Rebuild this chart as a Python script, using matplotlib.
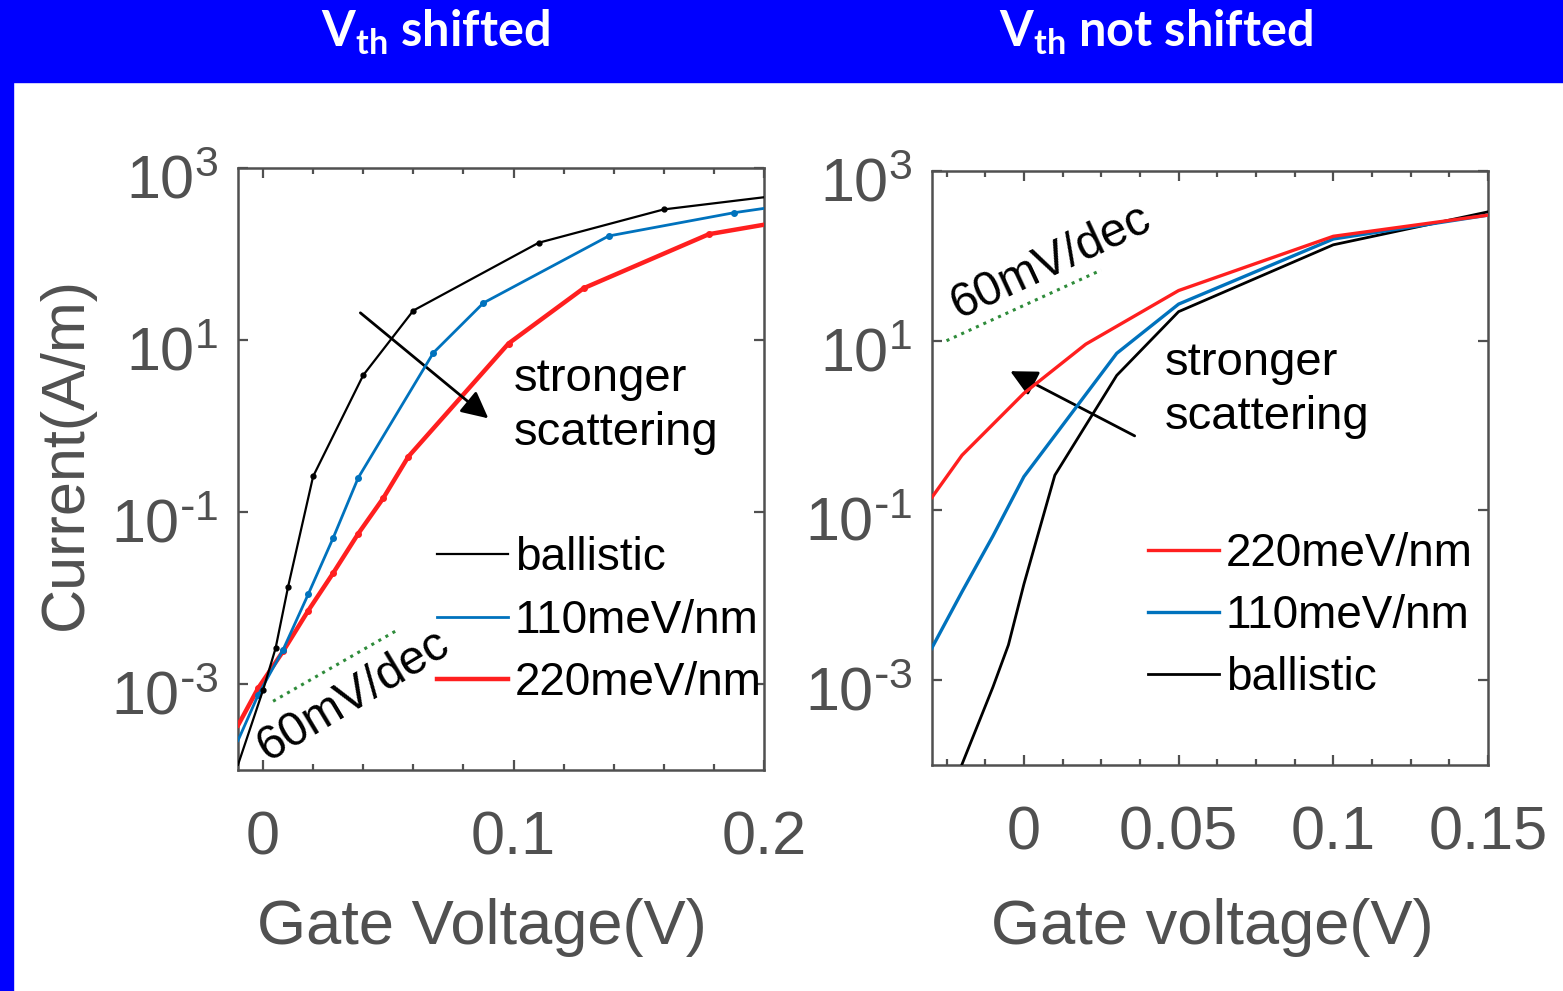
import matplotlib.pyplot as plt
from matplotlib.patches import Rectangle
from matplotlib.ticker import FixedLocator
from matplotlib.transforms import ScaledTranslation

# Vth shifted panel
vg_ball_l = [-0.01, 0.0, 0.005, 0.01, 0.02, 0.04, 0.06, 0.11, 0.16, 0.2]
id_ball_l = [1.15e-4, 8.5e-4, 2.6e-3, 1.35e-2, 0.26, 3.9, 22, 135, 330, 457]
vg_110_l = [-0.01, -0.002, 0.008, 0.018, 0.028, 0.038, 0.068, 0.088, 0.138, 0.188, 0.2]
id_110_l = [2.2e-4, 7.4e-4, 2.5e-3, 1.1e-2, 5.0e-2, 0.25, 7.1, 27, 162, 302, 339]
vg_220_l = [-0.01, -0.002, 0.008, 0.018, 0.028, 0.038, 0.048, 0.058, 0.098, 0.128, 0.178, 0.2]
id_220_l = [3.3e-4, 8.9e-4, 2.4e-3, 7.1e-3, 1.95e-2, 5.6e-2, 0.145, 0.44, 9.1, 40, 170, 219]

# Vth not shifted panel
vg_ball_r = [-0.02, -0.01, -0.005, 0.0, 0.01, 0.03, 0.05, 0.1, 0.15]
id_ball_r = [1.02e-4, 8.3e-4, 2.6e-3, 1.35e-2, 0.26, 3.9, 22, 135, 330]
vg_110_r = [-0.03, -0.02, -0.01, 0.0, 0.03, 0.05, 0.1, 0.15]
id_110_r = [2.3e-3, 1.1e-2, 5.0e-2, 0.25, 7.1, 27, 158, 302]
vg_220_r = [-0.03, -0.02, 0.0, 0.02, 0.05, 0.1, 0.15]
id_220_r = [0.138, 0.447, 2.4, 9.1, 39, 170, 302]

# 60 mV/dec guide lines
ss_vg_l = [0.004, 0.054]
ss_id_l = [6.3e-4, 4.3e-3]
ss_vg_r = [-0.025, 0.025]
ss_id_r = [10.0, 68.0]

ytick_vals = [1e-3, 1e-1, 1e1, 1e3]
ytick_text = [r'$\mathregular{10^{\text{-}3}}$', r'$\mathregular{10^{\text{-}1}}$',
              r'$\mathregular{10^{1}}$', r'$\mathregular{10^{3}}$']
xtick_l = [0, 0.1, 0.2]
xtick_l_text = ['0', '0.1', '0.2']
xtick_r = [0, 0.05, 0.1, 0.15]
xtick_r_text = ['0', '0.05', '0.1', '0.15']

BLUE = '#0072bd'
RED = '#ff1f1f'
GREEN = '#2e8b3a'
GRAY = '#505050'

plt.rcParams['font.family'] = ['Liberation Sans', 'DejaVu Sans']

fig = plt.figure(figsize=(15.63, 9.91), dpi=100)
fig.patches.append(Rectangle((0, 1 - 82 / 991), 1, 82 / 991, transform=fig.transFigure,
                             color='#0000ff', zorder=0))
fig.patches.append(Rectangle((0, 0), 13 / 1563, 1, transform=fig.transFigure,
                             color='#0000ff', zorder=0))
fig.text(435 / 1563, 1 - 47 / 991, r'V$_\mathregular{th}$ shifted', color='white',
         fontfamily='Lato', fontweight='bold', fontsize=35, ha='center', va='baseline')
fig.text(1156 / 1563, 1 - 47 / 991, r'V$_\mathregular{th}$ not shifted', color='white',
         fontfamily='Lato', fontweight='bold', fontsize=35, ha='center', va='baseline')

ax1 = fig.add_axes([238 / 1563, 221 / 991, 526 / 1563, 602 / 991])
ax2 = fig.add_axes([932 / 1563, 226 / 991, 556 / 1563, 594 / 991])


def style_axes(ax, xlim, xticks, xlabels, minor_step):
    ax.set_yscale('log')
    ax.set_xlim(*xlim)
    ax.set_ylim(1e-4, 1e3)
    ax.set_xticks(xticks, xlabels)
    ax.set_yticks(ytick_vals, ytick_text)
    ax.yaxis.set_minor_locator(FixedLocator([]))
    n = int(round((xlim[1] - xlim[0]) / minor_step)) + 2
    minors = [round(xticks[0] + (i - n) * minor_step, 6) for i in range(3 * n)]
    ax.xaxis.set_minor_locator(FixedLocator([m for m in minors if xlim[0] <= m <= xlim[1]]))
    ax.tick_params(which='both', direction='in', top=True, right=True, colors=GRAY,
                   width=1.6)
    ax.tick_params(which='major', length=7, labelsize=44, labelcolor=GRAY)
    ax.tick_params(which='minor', length=4)
    ax.tick_params(axis='x', pad=29)
    ax.tick_params(axis='y', pad=14)
    # nudge the decade labels down a little
    shift = ScaledTranslation(0, -6 / 72, fig.dpi_scale_trans)
    for lab in ax.get_yticklabels():
        lab.set_transform(lab.get_transform() + shift)
    for sp in ax.spines.values():
        sp.set_color(GRAY)
        sp.set_linewidth(1.8)


ARROW = dict(arrowstyle='-|>,head_length=0.6,head_width=0.3', mutation_scale=27,
             lw=2.0, color='black')
LEG = dict(loc='upper left', frameon=False, fontsize=33, handlelength=1.55,
           handletextpad=0.15, labelspacing=0.4, borderpad=0, borderaxespad=0)

# left panel
style_axes(ax1, (-0.01, 0.2), xtick_l, xtick_l_text, 0.02)
ax1.plot(vg_220_l, id_220_l, color=RED, lw=3.2, label='220meV/nm', zorder=3)
ax1.plot(vg_220_l[1:-1], id_220_l[1:-1], 'o', color=RED, ms=4, zorder=3)
ax1.plot(vg_110_l, id_110_l, color=BLUE, lw=2.0, label='110meV/nm', zorder=4)
ax1.plot(vg_110_l[1:-1], id_110_l[1:-1], 'o', color=BLUE, ms=4, zorder=4)
ax1.plot(vg_ball_l, id_ball_l, color='black', lw=1.6, label='ballistic', zorder=5)
ax1.plot(vg_ball_l[1:-1], id_ball_l[1:-1], 'o', color='black', ms=3.5, zorder=5)
ax1.plot(ss_vg_l, ss_id_l, ':', color=GREEN, lw=2.2, zorder=2)
ax1.text(0.002, 1.23e-4, '60mV/dec', fontsize=34.5, rotation=31, rotation_mode='anchor',
         ha='left', va='baseline')
ax1.annotate('', xy=(0.0908, 1.17), xytext=(0.038, 21.7), arrowprops=ARROW)
ax1.text(0.525, 0.605, 'stronger\nscattering', transform=ax1.transAxes, fontsize=34,
         ha='left', va='center', linespacing=1.3)
h1 = ax1.get_legend_handles_labels()[0]
ax1.legend([h1[2], h1[1], h1[0]], ['ballistic', '110meV/nm', '220meV/nm'],
           bbox_to_anchor=(0.378, 0.388), **LEG)
ax1.set_xlabel('Gate Voltage(V)', fontsize=45.5, color=GRAY)
ax1.xaxis.set_label_coords(0.464, -0.212)
ax1.set_ylabel('Current(A/m)', fontsize=44, color=GRAY)
ax1.yaxis.set_label_coords(-0.272, 0.526)

# right panel
style_axes(ax2, (-0.0297, 0.15), xtick_r, xtick_r_text, 0.0125)
ax2.plot(vg_ball_r, id_ball_r, color='black', lw=2.0, label='ballistic', zorder=3)
ax2.plot(vg_110_r, id_110_r, color=BLUE, lw=2.4, label='110meV/nm', zorder=4)
ax2.plot(vg_220_r, id_220_r, color=RED, lw=2.4, label='220meV/nm', zorder=5)
ax2.plot(ss_vg_r, ss_id_r, ':', color=GREEN, lw=2.2, zorder=2)
ax2.text(-0.021, 18.0, '60mV/dec', fontsize=34.5, rotation=25, rotation_mode='anchor',
         ha='left', va='baseline')
ax2.annotate('', xy=(-0.0052, 4.53), xytext=(0.0366, 0.73), arrowprops=ARROW)
ax2.text(0.419, 0.631, 'stronger\nscattering', transform=ax2.transAxes, fontsize=34,
         ha='left', va='center', linespacing=1.3)
h2 = ax2.get_legend_handles_labels()[0]
ax2.legend([h2[2], h2[1], h2[0]], ['220meV/nm', '110meV/nm', 'ballistic'],
           bbox_to_anchor=(0.388, 0.393), **LEG)
ax2.set_xlabel('Gate voltage(V)', fontsize=45.5, color=GRAY)
ax2.xaxis.set_label_coords(0.505, -0.224)

fig.savefig('out.png', dpi=100, facecolor='white')
